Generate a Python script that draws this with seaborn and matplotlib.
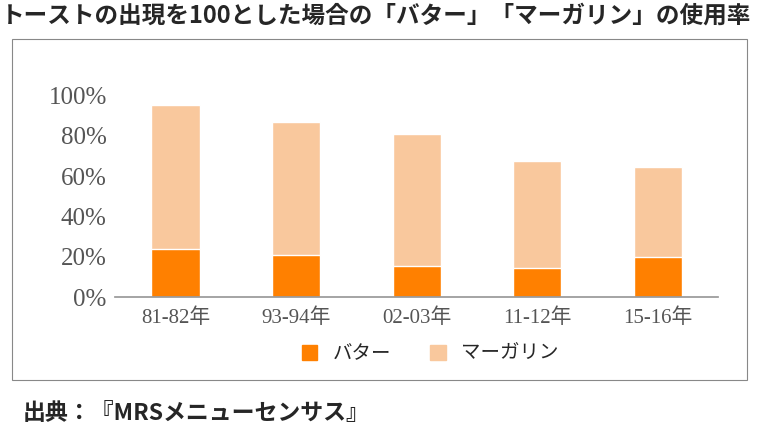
import numpy as np
import pandas as pd
import seaborn as sns
import matplotlib.pyplot as plt
from matplotlib.patches import Rectangle, Patch

periods = ["81-82年", "93-94年", "02-03年", "11-12年", "15-16年"]
butter = [24.0, 21.0, 15.5, 14.5, 20.0]
total = [95.5, 87.0, 81.0, 67.5, 64.5]

sns.set_theme(style="white")
plt.rcParams["font.family"] = ["Liberation Serif", "Noto Sans CJK JP"]

df = pd.DataFrame({"period": periods, "butter": butter, "total": total})

fig = plt.figure(figsize=(7.68, 4.34), dpi=100)
ax = fig.add_axes([0.15, 0.315, 0.785, 0.465])

# frame around the chart
fig.patches.append(Rectangle((0.016, 0.125), 0.957, 0.785, transform=fig.transFigure,
                             fill=False, edgecolor="#888888", linewidth=0.8))

sns.barplot(data=df, x="period", y="total", color="#F9C89D", width=0.4,
            saturation=1, ax=ax)
sns.barplot(data=df, x="period", y="butter", color="#FF8000", width=0.4,
            saturation=1, ax=ax)

ax.set_ylim(0, 100)
ax.set_yticks(np.arange(0, 101, 20))
ax.set_yticklabels([f"{v}%" for v in range(0, 101, 20)], fontsize=18, color="#555555")
ax.tick_params(axis="x", labelsize=15, colors="#555555", length=0, pad=8)
ax.tick_params(axis="y", length=0, pad=6)
ax.set_xlabel("")
ax.set_ylabel("")
for s in ["top", "right", "left"]:
    ax.spines[s].set_visible(False)
ax.spines["bottom"].set_color("#999999")

handles = [Patch(color="#FF8000"), Patch(color="#F9C89D")]
fig.legend(handles, ["バター", "マーガリン"], loc="center", bbox_to_anchor=(0.56, 0.185),
           ncol=2, frameon=False, handlelength=0.8, handleheight=0.8,
           columnspacing=2.0, prop={"family": "Noto Sans CJK JP", "size": 14})

fig.text(0.001, 0.965, "トーストの出現を100とした場合の「バター」「マーガリン」の使用率",
         fontsize=17, fontweight="bold", family="Noto Sans CJK JP", va="center")
fig.text(0.03, 0.048, "出典：『MRSメニューセンサス』", fontsize=16.5, fontweight="bold",
         family="Noto Sans CJK JP", va="center")

fig.savefig("out.png", dpi=100)
